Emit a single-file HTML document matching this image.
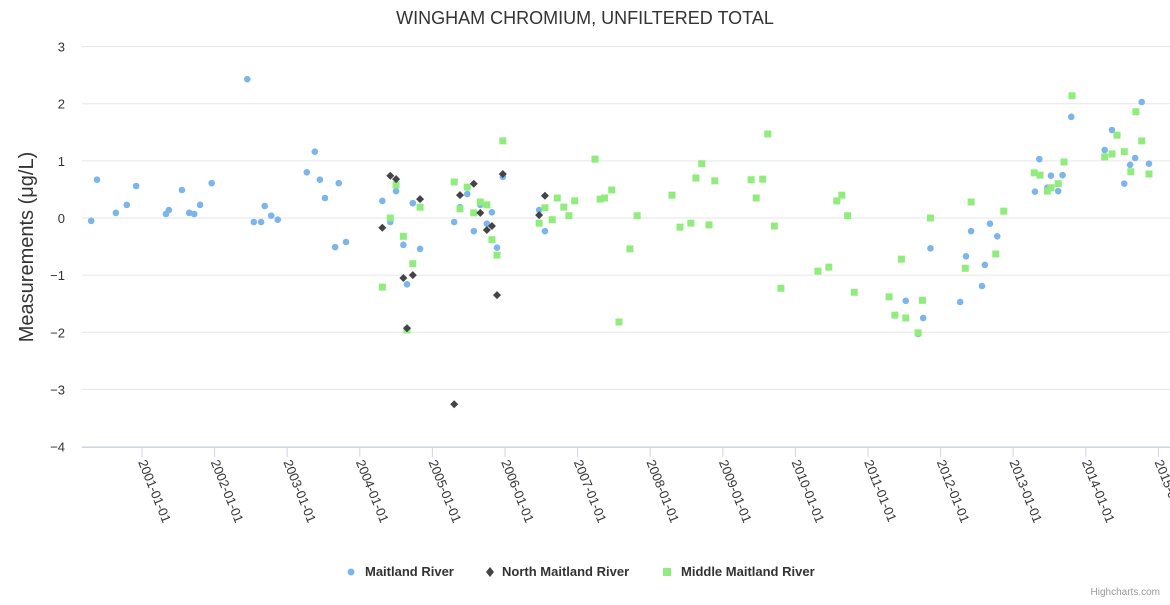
<!DOCTYPE html>
<html><head><meta charset="utf-8"><style>
body{margin:0;background:#fff;font-family:"Liberation Sans",sans-serif;}
svg text{font-family:"Liberation Sans",sans-serif;}
</style></head><body>
<svg id="chart" width="1170" height="600" xmlns="http://www.w3.org/2000/svg">
<text x="585" y="24" text-anchor="middle" font-size="18" fill="#333">WINGHAM CHROMIUM, UNFILTERED TOTAL</text>
<text transform="translate(33,247) rotate(-90)" text-anchor="middle" font-size="20" fill="#333">Measurements (μg/L)</text>
<g id="grid"></g><g id="xaxis"></g><g id="marks"></g>
<g font-size="13" font-weight="bold" fill="#333">
<g><circle cx="351" cy="572" r="3.5" fill="#7cb5ec"/><text x="365" y="576">Maitland River</text></g>
<g><path d="M490 567 L494 572 L490 577 L486 572Z" fill="#434348"/><text x="502" y="576">North Maitland River</text></g>
<g><rect x="663" y="568" width="8" height="8" fill="#90ed7d"/><text x="681" y="576">Middle Maitland River</text></g>
</g>
<text x="1160" y="595" text-anchor="end" font-size="10" fill="#999">Highcharts.com</text>
</svg>
<script>
const yTicks=[-4,-3,-2,-1,0,1,2,3];
const xTickYears=[2001,2002,2003,2004,2005,2006,2007,2008,2009,2010,2011,2012,2013,2014,2015];
const maitlandX=[2000.30,2000.38,2000.64,2000.79,2000.92,2001.33,2001.37,2001.55,2001.65,2001.72,2001.80,2001.96,2002.45,2002.54,2002.64,2002.69,2002.78,2002.87,2003.27,2003.38,2003.45,2003.52,2003.66,2003.71,2003.81,2004.31,2004.42,2004.50,2004.60,2004.65,2004.73,2004.83,2005.30,2005.38,2005.48,2005.57,2005.66,2005.75,2005.82,2005.89,2005.97,2006.47,2006.55,2011.52,2011.69,2011.76,2011.86,2012.27,2012.35,2012.42,2012.57,2012.61,2012.68,2012.78,2013.30,2013.36,2013.47,2013.52,2013.62,2013.68,2013.80,2014.26,2014.36,2014.53,2014.61,2014.68,2014.77,2014.87];
const maitlandY=[-0.05,0.67,0.09,0.23,0.56,0.07,0.14,0.49,0.09,0.07,0.23,0.61,2.43,-0.07,-0.07,0.21,0.04,-0.03,0.80,1.16,0.67,0.35,-0.51,0.61,-0.42,0.30,-0.07,0.47,-0.47,-1.16,0.26,-0.54,-0.07,0.19,0.42,-0.23,0.23,-0.10,0.10,-0.52,0.72,0.14,-0.23,-1.45,-2.03,-1.75,-0.53,-1.47,-0.67,-0.23,-1.19,-0.82,-0.10,-0.32,0.46,1.03,0.53,0.74,0.47,0.75,1.77,1.19,1.54,0.60,0.93,1.05,2.03,0.95];
const northX=[2004.31,2004.42,2004.50,2004.60,2004.65,2004.73,2004.83,2005.30,2005.38,2005.57,2005.66,2005.75,2005.82,2005.89,2005.97,2006.47,2006.55];
const northY=[-0.17,0.74,0.68,-1.05,-1.93,-1.00,0.33,-3.26,0.40,0.60,0.09,-0.21,-0.14,-1.35,0.77,0.05,0.39];
const middleX=[2004.31,2004.42,2004.50,2004.60,2004.65,2004.73,2004.83,2005.30,2005.38,2005.48,2005.57,2005.66,2005.75,2005.82,2005.89,2005.97,2006.47,2006.55,2006.65,2006.72,2006.81,2006.88,2006.96,2007.24,2007.31,2007.37,2007.47,2007.57,2007.72,2007.82,2008.30,2008.41,2008.56,2008.63,2008.71,2008.81,2008.89,2009.39,2009.46,2009.55,2009.62,2009.71,2009.80,2010.31,2010.46,2010.57,2010.64,2010.72,2010.81,2011.29,2011.37,2011.46,2011.52,2011.69,2011.75,2011.86,2012.34,2012.42,2012.76,2012.87,2013.29,2013.37,2013.47,2013.52,2013.62,2013.70,2013.81,2014.26,2014.36,2014.43,2014.53,2014.62,2014.69,2014.77,2014.87];
const middleY=[-1.21,0.00,0.58,-0.32,-1.96,-0.80,0.19,0.63,0.16,0.54,0.09,0.28,0.23,-0.38,-0.65,1.35,-0.09,0.18,-0.03,0.35,0.19,0.04,0.30,1.03,0.33,0.35,0.49,-1.82,-0.54,0.04,0.40,-0.16,-0.09,0.70,0.95,-0.12,0.65,0.67,0.35,0.68,1.47,-0.14,-1.23,-0.93,-0.86,0.30,0.40,0.04,-1.30,-1.38,-1.70,-0.72,-1.75,-2.01,-1.44,0.00,-0.88,0.28,-0.63,0.12,0.79,0.75,0.47,0.53,0.60,0.98,2.14,1.07,1.12,1.45,1.16,0.81,1.86,1.35,0.77];
const NS='http://www.w3.org/2000/svg';
const L=82,R=1170;
function xs(y){return 142+(y-2001)*72.6;}
function ys(v){return 218-v*57.14;}
function mk(t,a,p){const e=document.createElementNS(NS,t);for(const k in a)e.setAttribute(k,a[k]);p.appendChild(e);return e;}
const grid=document.getElementById('grid'),xa=document.getElementById('xaxis'),marks=document.getElementById('marks');
yTicks.forEach(v=>{
  const l=mk('line',{x1:L,x2:R,y1:ys(v),y2:ys(v),stroke:'#e6e6e6','stroke-width':1},grid);
  
  
  const t=mk('text',{x:65,y:ys(v)+5,'text-anchor':'end','font-size':13,fill:'#333'},grid);
  t.textContent=v<0?'\u2212'+(-v):String(v);
  
  
});
const ax=mk('line',{x1:L,x2:R,y1:447.5,y2:447.5,stroke:'#ccd6eb'},xa);


xTickYears.forEach(yr=>{
  const x=xs(yr);
  const tk=mk('line',{x1:x,x2:x,y1:447,y2:457,stroke:'#ccd6eb'},xa);
  
  
  const t=mk('text',{transform:`translate(${x-4},462) rotate(68)`,'font-size':13,fill:'#333'},xa);
  t.textContent=yr+'-01-01';
  
  
});
maitlandX.forEach((x,i)=>{
  const c=mk('circle',{cx:xs(x),cy:ys(maitlandY[i]),r:3.3,fill:'#7cb5ec'},marks);
  
  
});
middleX.forEach((x,i)=>{
  const r=mk('rect',{x:xs(x)-3.5,y:ys(middleY[i])-3.5,width:7,height:7,fill:'#90ed7d'},marks);
  
  
});
northX.forEach((x,i)=>{
  const cx=xs(x),cy=ys(northY[i]);
  const p=mk('path',{d:`M${cx} ${cy-4}L${cx+4} ${cy}L${cx} ${cy+4}L${cx-4} ${cy}Z`,fill:'#434348'},marks);
  
  
});
</script>
</body></html>
